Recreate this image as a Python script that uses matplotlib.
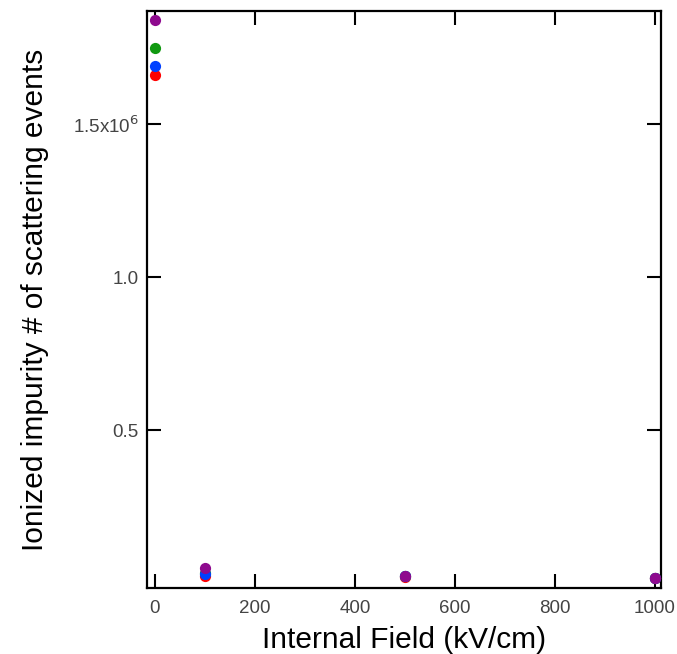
import matplotlib.pyplot as plt
from matplotlib.ticker import FixedLocator, FixedFormatter

plt.rcParams['font.family'] = ['Liberation Sans', 'DejaVu Sans']

# Donnees
fields = [0, 100, 500, 1000]
red_counts = [1.660e6, 23000, 21000, 15000]
green_counts = [1.748e6, 33000, 22000, 15500]
blue_counts = [1.690e6, 29000, 22000, 15500]
purple_counts = [1.840e6, 49000, 23000, 16000]

y_ticks = [0.5e6, 1.0e6, 1.5e6]
y_tick_labels = ['0.5', '1.0', '1.5x10$^{6}$']
x_ticks = [0, 200, 400, 600, 800, 1000]

fig = plt.figure(figsize=(6.77, 6.54), dpi=100)
ax = fig.add_axes([0.217, 0.101, 0.759, 0.882])

series = [
    (red_counts, '#ff0000'),
    (green_counts, '#119911'),
    (blue_counts, '#0040ff'),
    (purple_counts, '#8e0a8e'),
]
for counts, color in series:
    ax.scatter(fields, counts, s=65, color=color, zorder=3, linewidths=0)

ax.set_xlim(-16, 1012)
ax.set_ylim(-16000, 1.869e6)

ax.xaxis.set_major_locator(FixedLocator(x_ticks))
ax.yaxis.set_major_locator(FixedLocator(y_ticks))
ax.yaxis.set_major_formatter(FixedFormatter(y_tick_labels))

ax.tick_params(direction='in', length=10, width=1.5, top=True, right=True,
               labelsize=13.5, labelcolor='#444444', pad=6)
ax.tick_params(axis='x', pad=9)
for spine in ax.spines.values():
    spine.set_linewidth(1.6)

ax.set_xlabel('Internal Field (kV/cm)', fontsize=21.5, labelpad=6)
ax.set_ylabel('Ionized impurity # of scattering events', fontsize=21.5, labelpad=17)

fig.savefig('out.png', dpi=100)
